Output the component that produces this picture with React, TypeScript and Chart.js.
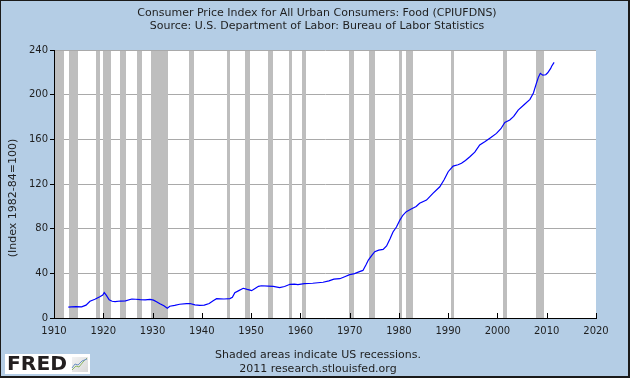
import React, { useEffect, useRef } from "react";
import { Chart, registerables } from "chart.js";

Chart.register(...registerables);

const titleLines = [
  "Consumer Price Index for All Urban Consumers: Food (CPIUFDNS)",
  "Source: U.S. Department of Labor: Bureau of Labor Statistics",
];
const yAxisLabel = "(Index 1982-84=100)";
const footerLines = ["Shaded areas indicate US recessions.", "2011 research.stlouisfed.org"];
const logoText = "FRED";

const xTickValues = [1910, 1920, 1930, 1940, 1950, 1960, 1970, 1980, 1990, 2000, 2010, 2020];
const yTickValues = [0, 40, 80, 120, 160, 200, 240];

const recessionStart = [1910.0, 1913.0, 1918.6, 1920.0, 1923.35, 1926.8, 1929.6, 1937.35, 1945.1, 1948.85, 1953.5, 1957.6, 1960.3, 1969.9, 1973.85, 1980.0, 1981.5, 1990.5, 2001.2, 2007.9];
const recessionEnd = [1912.0, 1914.95, 1919.25, 1921.55, 1924.55, 1927.9, 1933.2, 1938.45, 1945.8, 1949.8, 1954.4, 1958.3, 1961.1, 1970.9, 1975.2, 1980.55, 1982.9, 1991.2, 2001.9, 2009.5];

const years = [
  1912.9, 1913.5, 1914.5, 1915.6, 1916.5, 1917.3, 1918.3, 1919.3, 1919.9, 1920.2, 1920.6, 1921.2, 1921.8, 1922.4,
  1923.5, 1924.5, 1925.8, 1926.6, 1927.5, 1928.5, 1929.5, 1930.2, 1930.8, 1931.5, 1932.3, 1933.0, 1933.5, 1934.5,
  1935.5, 1936.9, 1937.6, 1938.6, 1939.6, 1940.5, 1941.5, 1942.3, 1943.0, 1944.5, 1945.7, 1946.2, 1946.7, 1947.5,
  1948.4, 1949.2, 1949.8, 1950.1, 1950.8, 1951.5, 1952.1, 1953.5, 1954.5, 1955.8, 1956.8, 1957.9, 1958.8, 1959.5,
  1960.8, 1962.5, 1964.6, 1965.8, 1966.8, 1968.0, 1969.0, 1970.0, 1971.0, 1972.0, 1972.7, 1973.3, 1973.8, 1974.5,
  1975.1, 1975.9, 1976.8, 1977.5, 1978.2, 1978.8, 1979.5, 1980.2, 1980.8, 1981.5, 1982.5, 1983.5, 1984.2, 1985.6,
  1986.9, 1988.3, 1989.2, 1990.0, 1991.0, 1992.0, 1992.7, 1993.5, 1994.4, 1995.4, 1996.4, 1997.5, 1998.6, 1999.8,
  2000.7, 2001.5, 2002.5, 2003.3, 2004.2, 2005.4, 2006.6, 2007.3, 2007.9, 2008.3, 2008.7, 2009.2, 2009.8, 2010.2,
  2010.8, 2011.0, 2011.5,
];
const foodIndex = [
  9.7, 10.0, 10.2, 10.0, 11.5, 15.0, 16.8, 19.0, 20.5, 22.7, 20.5, 16.3, 15.0, 14.6,
  15.2, 15.3, 17.0, 16.8, 16.4, 16.3, 16.6, 16.0, 14.6, 12.8, 10.9, 8.8, 10.5, 11.3,
  12.3, 12.8, 13.0, 11.8, 11.3, 11.6, 13.0, 15.5, 17.3, 17.0, 17.4, 18.5, 22.7, 24.5,
  26.6, 25.6, 25.0, 24.5, 26.5, 28.4, 28.9, 28.6, 28.3, 27.2, 28.2, 30.2, 30.4, 29.9,
  30.8, 31.1, 32.0, 33.3, 34.8, 35.2, 37.0, 38.8, 39.8, 41.5, 42.6, 47.5, 51.9, 56.0,
  59.4, 60.8, 61.5, 64.5, 71.0, 77.0, 81.5, 87.7, 92.0, 95.2, 97.6, 99.8, 102.7, 105.6,
  111.6, 117.5, 124.0, 131.0, 136.0, 137.2, 138.5, 141.0, 144.4, 148.5, 154.9, 158.0, 161.5, 165.3,
  169.5, 175.2, 177.3, 180.5, 186.2, 191.0, 195.8, 201.5, 210.1, 215.5, 219.1, 217.5, 217.8, 219.6,
  223.5, 225.5, 228.9,
];

const BG = "#B4CDE5";
const FONT = "'DejaVu Sans', Verdana, sans-serif";
const TEXT = "#1e1e1e";

const fredPlugin = {
  id: "fredDecor",
  beforeDraw(chart: any) {
    const { ctx, chartArea: a } = chart;
    ctx.save();
    ctx.fillStyle = BG;
    ctx.fillRect(0, 0, chart.width, chart.height);
    ctx.fillStyle = "#ffffff";
    ctx.fillRect(a.left, a.top, a.right - a.left, a.bottom - a.top);
    ctx.restore();
  },
  beforeDatasetsDraw(chart: any) {
    const { ctx, chartArea: a } = chart;
    const xs = chart.scales.x;
    ctx.save();
    ctx.fillStyle = "#BEBEBE";
    for (let i = 0; i < recessionStart.length; i++) {
      let x0 = Math.round(xs.getPixelForValue(recessionStart[i]));
      const x1 = Math.round(xs.getPixelForValue(recessionEnd[i]));
      if (x0 < a.left + 1) x0 = a.left + 1;
      ctx.fillRect(x0, a.top + 1, Math.max(2, x1 - x0), a.bottom - a.top - 1);
    }
    // inward x tick marks
    ctx.strokeStyle = "#000";
    ctx.lineWidth = 1;
    for (const v of xTickValues) {
      const x = Math.round(xs.getPixelForValue(v)) + 0.5;
      ctx.beginPath();
      ctx.moveTo(x, a.bottom);
      ctx.lineTo(x, a.bottom - 5);
      ctx.stroke();
    }
    ctx.restore();
  },
  afterDraw(chart: any) {
    const { ctx } = chart;
    const W = chart.width;
    const H = chart.height;
    ctx.save();
    ctx.fillStyle = TEXT;
    ctx.textAlign = "center";
    ctx.textBaseline = "middle";
    ctx.font = `11px ${FONT}`;
    ctx.fillText(titleLines[0], 317, 13.5);
    ctx.fillText(titleLines[1], 317, 26.5);
    ctx.fillText(footerLines[0], 318, 355);
    ctx.fillText(footerLines[1], 318, 369.5);
    // y axis label
    ctx.save();
    ctx.translate(13, 198);
    ctx.rotate(-Math.PI / 2);
    ctx.fillText(yAxisLabel, 0, 0);
    ctx.restore();
    // FRED logo
    ctx.fillStyle = "#ffffff";
    ctx.fillRect(5, 354, 85, 20);
    ctx.fillStyle = "#231f20";
    ctx.textAlign = "left";
    ctx.textBaseline = "alphabetic";
    ctx.font = `bold 19px ${FONT}`;
    const tw = ctx.measureText(logoText).width;
    ctx.save();
    ctx.translate(7, 370);
    ctx.scale(60 / tw, 1);
    ctx.fillText(logoText, 0, 0);
    ctx.restore();
    // small icon
    const g = ctx.createLinearGradient(72, 356, 88, 372);
    g.addColorStop(0, "#f4f4f4");
    g.addColorStop(1, "#d8d8d8");
    ctx.fillStyle = g;
    ctx.fillRect(72, 357, 16, 15);
    ctx.lineWidth = 1;
    ctx.strokeStyle = "#8fb866";
    ctx.beginPath();
    ctx.moveTo(72, 370);
    ctx.lineTo(76, 366);
    ctx.lineTo(79, 367);
    ctx.lineTo(83, 362);
    ctx.lineTo(87, 358);
    ctx.stroke();
    ctx.strokeStyle = "#6f93c4";
    ctx.beginPath();
    ctx.moveTo(72, 368);
    ctx.lineTo(75, 364);
    ctx.lineTo(78, 365);
    ctx.lineTo(82, 361);
    ctx.lineTo(87, 359);
    ctx.stroke();
    // outer border
    ctx.fillStyle = "#1a1a1a";
    ctx.fillRect(0, 0, W, 1);
    ctx.fillRect(0, 0, 1, H);
    ctx.fillRect(W - 2, 0, 2, H);
    ctx.fillRect(0, H - 2, W, 2);
    ctx.restore();
  },
};

export default function App() {
  const ref = useRef<HTMLCanvasElement | null>(null);
  useEffect(() => {
    if (!ref.current) return;
    const chart = new Chart(ref.current, {
      type: "line",
      data: {
        datasets: [
          {
            data: years.map((y, i) => ({ x: y, y: foodIndex[i] })),
            borderColor: "#0000FF",
            borderWidth: 1.2,
            pointRadius: 0,
            tension: 0,
            fill: false,
          },
        ],
      },
      options: {
        animation: false,
        responsive: false,
        devicePixelRatio: 1,
        layout: { padding: { left: 0, top: 50, right: 34, bottom: 40 } },
        plugins: { legend: { display: false }, title: { display: false }, tooltip: { enabled: false } },
        scales: {
          x: {
            type: "linear",
            min: 1910,
            max: 2020,
            afterBuildTicks: (s: any) => {
              s.ticks = xTickValues.map((v) => ({ value: v }));
            },
            afterFit: (s: any) => {
              s.height = 20;
            },
            grid: { display: false, drawTicks: false },
            border: { display: true, color: "#000", width: 1 },
            ticks: {
              padding: 7,
              color: TEXT,
              font: { family: FONT, size: 10 },
              maxRotation: 0,
              autoSkip: false,
              callback: (v: any) => String(v),
            },
          },
          y: {
            min: 0,
            max: 240,
            afterBuildTicks: (s: any) => {
              s.ticks = yTickValues.map((v) => ({ value: v }));
            },
            afterFit: (s: any) => {
              s.width = 54;
            },
            grid: {
              color: (c: any) => (c.tick && c.tick.value === 0 ? "#000" : "#A9A9A9"),
              tickColor: "#000",
              tickLength: 4,
              lineWidth: 1,
            },
            border: { display: true, color: "#000", width: 1 },
            ticks: {
              padding: 2,
              color: TEXT,
              font: { family: FONT, size: 10 },
              autoSkip: false,
              callback: (v: any) => String(v),
            },
          },
        },
      },
      plugins: [fredPlugin],
    } as any);
    return () => chart.destroy();
  }, []);
  return (
    <div style={{ position: "absolute", left: 0, top: 0, width: 630, height: 378 }}>
      <canvas ref={ref} width={630} height={378} style={{ display: "block", width: 630, height: 378 }} />
    </div>
  );
}
